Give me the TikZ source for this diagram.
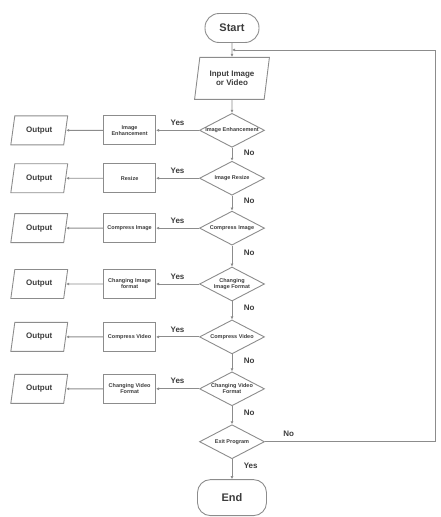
\documentclass[tikz,border=0pt]{standalone}
\usepackage{fontspec}
\setmainfont{Liberation Sans}
\usetikzlibrary{positioning,arrows.meta,shapes.geometric,calc}
\definecolor{lineG}{RGB}{140,140,140}
\definecolor{textG}{RGB}{60,60,60}

\begin{document}
\begin{tikzpicture}[
                  font=\bfseries, text=textG,
                  term/.style={draw=lineG,line width=0.9pt,rounded corners=14pt,minimum width=54pt,minimum height=29pt,font=\fontsize{11}{12}\selectfont\bfseries},
                  io/.style={draw=lineG,line width=0.9pt,trapezium,trapezium left angle=76,trapezium right angle=104,trapezium stretches=true,minimum width=57pt,minimum height=29pt,inner sep=1pt,align=center,font=\fontsize{8}{9}\selectfont\bfseries},
                  dec/.style={draw=lineG,line width=0.9pt,diamond,aspect=2,inner sep=0pt,minimum width=65pt,minimum height=34pt,align=center,font=\fontsize{5.5}{6}\selectfont\bfseries},
                  proc/.style={draw=lineG,line width=0.9pt,minimum width=52pt,minimum height=29pt,inner sep=1pt,align=center,font=\fontsize{5.5}{6}\selectfont\bfseries},
                  arr/.style={-{Latex[length=3pt,width=3pt]},draw=lineG,line width=0.9pt},
                  ylab/.style={above=1pt,font=\fontsize{8}{9}\selectfont\bfseries},
                  nlab/.style={right=8pt,pos=0.35,font=\fontsize{8}{9}\selectfont\bfseries}
                ]
                \useasboundingbox (0,0) rectangle (441pt,-517pt);
                \node[term] (start) at (232pt,-28pt) {Start};
                \node[io,minimum width=75pt,minimum height=42pt,trapezium left angle=77,trapezium right angle=103,below=14pt of start] (input) {Input Image\\or Video};
                \coordinate (back) at ($(start.south)!0.5!(input.north)$);
                
                \node[dec,below=13pt of input] (d1) {Image Enhancement};
                \node[dec,below=13pt of d1] (d2) {Image Resize};
                \node[dec,below=15pt of d2] (d3) {Compress Image};
                \node[dec,below=21pt of d3] (d4) {Changing\\Image Format};
                \node[dec,below=18pt of d4] (d5) {Compress Video};
                \node[dec,below=17pt of d5] (d6) {Changing Video\\Format};
                \node[dec,below=18pt of d6] (d7) {Exit Program};
                \node[term,minimum width=69pt,minimum height=36pt,rounded corners=13pt,below=20pt of d7] (end) {End};
                
                \node[proc,left=43pt of d1] (b1) {Image\\Enhancement};
                \node[proc,left=43pt of d2] (b2) {Resize};
                \node[proc,left=43pt of d3] (b3) {Compress Image};
                \node[proc,left=43pt of d4] (b4) {Changing Image\\format};
                \node[proc,left=43pt of d5] (b5) {Compress Video};
                \node[proc,left=43pt of d6] (b6) {Changing Video\\Format};
                
                \node[io,left=37pt of b1] (o1) {Output};
                \node[io,left=37pt of b2] (o2) {Output};
                \node[io,left=37pt of b3] (o3) {Output};
                \node[io,left=37pt of b4] (o4) {Output};
                \node[io,left=37pt of b5] (o5) {Output};
                \node[io,left=37pt of b6] (o6) {Output};
                
                \draw[arr] (start) -- (input);
                \draw[arr] (input) -- (d1);
                \draw[arr] (d1) -- node[nlab]{No} (d2);
                \draw[arr] (d2) -- node[nlab]{No} (d3);
                \draw[arr] (d3) -- node[nlab]{No} (d4);
                \draw[arr] (d4) -- node[nlab]{No} (d5);
                \draw[arr] (d5) -- node[nlab]{No} (d6);
                \draw[arr] (d6) -- node[nlab]{No} (d7);
                \draw[arr] (d7) -- node[nlab]{Yes} (end);
                \draw[arr] (d7.east) -- node[ylab,pos=0.14]{No} ++(170pt,0) |- (back);
                
                \draw[arr] (d1) -- node[ylab]{Yes} (b1);
                \draw[arr] (d2) -- node[ylab]{Yes} (b2);
                \draw[arr] (d3) -- node[ylab]{Yes} (b3);
                \draw[arr] (d4) -- node[ylab]{Yes} (b4);
                \draw[arr] (d5) -- node[ylab]{Yes} (b5);
                \draw[arr] (d6) -- node[ylab]{Yes} (b6);
                \draw[arr] (b1) -- (o1);
                \draw[arr] (b2) -- (o2);
                \draw[arr] (b3) -- (o3);
                \draw[arr] (b4) -- (o4);
                \draw[arr] (b5) -- (o5);
                \draw[arr] (b6) -- (o6);
                \end{tikzpicture}
\end{document}
